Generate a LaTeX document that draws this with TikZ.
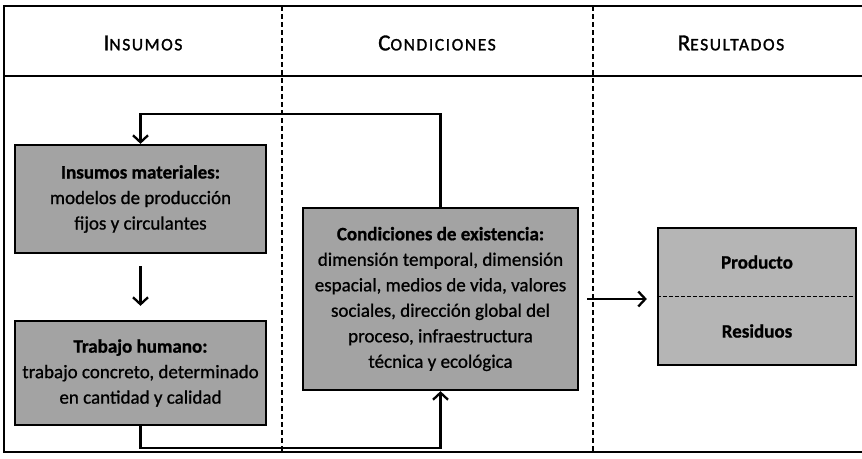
\documentclass[tikz,border=0pt]{standalone}
\usepackage{fontspec}
\setmainfont{Carlito}[RawFeature={embolden=0.9}]
\newfontfamily\headfont{Carlito}[LetterSpace=9,RawFeature={embolden=1.4}]
\usetikzlibrary{arrows.meta}
\definecolor{boxgray}{gray}{0.64}
\definecolor{resgray}{gray}{0.71}
\newcommand{\capword}[2]{{\fontsize{23}{26}\selectfont #1}{\fontsize{17.5}{26}\selectfont #2}}

\begin{document}
\begin{tikzpicture}[x=1pt,y=-1pt,
  box/.style={draw,line width=2.3pt,fill=boxgray,align=center,inner sep=0pt,font=\fontsize{19}{25.5}\selectfont},
  head/.style={font=\headfont},
  conn/.style={line width=2.3pt,-{Straight Barb[length=7pt,width=15pt]}},
  divider/.style={line width=1.3pt,dash pattern=on 5pt off 3pt}]
\useasboundingbox (0,0) rectangle (862,458);
\draw[line width=1.8pt] (862,6) -- (4,6) -- (4,452) -- (862,452);
\draw[line width=1.8pt] (4,76) -- (862,76);
\foreach \xdiv in {282,593}
  \draw[divider] (\xdiv,6) -- (\xdiv,452);
\node[head] (hIns) at (143,43) {\capword{I}{NSUMOS}};
\node[head] (hCond) at (437,43) {\capword{C}{ONDICIONES}};
\node[head] (hRes) at (731,43) {\capword{R}{ESULTADOS}};
\node[box,minimum width=251pt,minimum height=108pt] (mat) at (140.5,199)
  {\textbf{Insumos materiales:}\\modelos de producción\\fijos y circulantes};
\node[box,minimum width=251pt,minimum height=104pt] (trab) at (140.5,373)
  {\textbf{Trabajo humano:}\\trabajo concreto, determinado\\en cantidad y calidad};
\node[box,minimum width=275pt,minimum height=182pt] (cond) at (440.5,299)
  {\textbf{Condiciones de existencia:}\\dimensión temporal, dimensión\\espacial, medios de vida, valores\\sociales, dirección global del\\proceso, infraestructura\\técnica y ecológica};
\node[box,fill=resgray,minimum width=198pt,minimum height=137pt] (res) at (757,296.5) {};
\draw[line width=1.4pt,dash pattern=on 4pt off 2pt] (res.west) -- (res.east);
\node[font=\fontsize{19}{25.5}\selectfont\bfseries] (prod) at (757,262) {Producto};
\node[font=\fontsize{19}{25.5}\selectfont\bfseries] (resid) at (757,331) {Residuos};
% conectores
\draw[conn] (cond.north) -- ++(0,-93) -| (mat.north);
\draw[conn,shorten <=12pt,shorten >=14pt] (mat.south) -- (trab.north);
\draw[conn] (trab.south) -- ++(0,22) -| (cond.south);
\draw[conn,shorten <=8pt,shorten >=10pt] (cond.east) -- (cond.east -| res.west);
\end{tikzpicture}
\end{document}
